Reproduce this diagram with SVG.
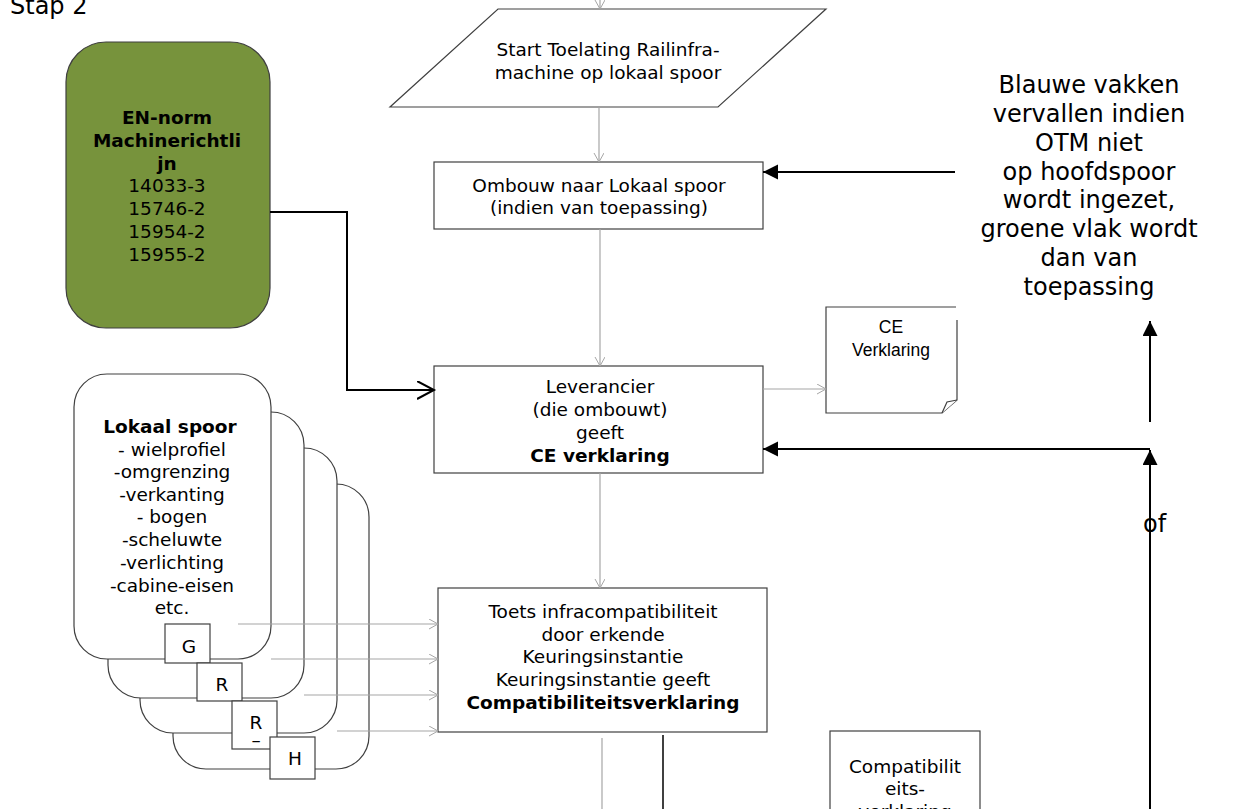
<svg xmlns="http://www.w3.org/2000/svg" width="1257" height="809" viewBox="0 0 1257 809">
<defs>
<style>
.t{font-family:"DejaVu Sans",Verdana,sans-serif;font-size:18.5px;fill:#000;text-anchor:middle}
.b{font-weight:bold}
.big{font-family:"DejaVu Sans",Verdana,sans-serif;font-size:24px;fill:#000}
.a{font-family:"Liberation Sans",Arial,sans-serif;font-size:17.5px;fill:#000;text-anchor:middle}
.box{fill:#fff;stroke:#404040;stroke-width:1.2}
.card{fill:#fff;stroke:#404040;stroke-width:1.2}
.g{fill:none;stroke:#a6a6a6;stroke-width:1.2}
.k{fill:none;stroke:#000;stroke-width:2}
.d{fill:none;stroke:#404040;stroke-width:2}
</style>
<marker id="go" markerUnits="userSpaceOnUse" markerWidth="12" markerHeight="12" refX="9" refY="5" orient="auto">
<path d="M0,0 L9,5 L0,10" fill="none" stroke="#a6a6a6" stroke-width="1"/>
</marker>
<marker id="ko" markerUnits="userSpaceOnUse" markerWidth="20" markerHeight="20" refX="17" refY="9" orient="auto">
<path d="M0,0 L17,9 L0,18" fill="none" stroke="#000" stroke-width="2"/>
</marker>
<marker id="kf" markerUnits="userSpaceOnUse" markerWidth="18" markerHeight="18" refX="15" refY="7.5" orient="auto">
<path d="M0,0 L15,7.5 L0,15 Z" fill="#000"/>
</marker>
</defs>
<rect width="1257" height="809" fill="#fff"/>

<text id="stap" class="big" x="10" y="14">Stap 2</text>

<g id="cards">
<rect class="card" x="173" y="484" width="196" height="285" rx="33"/>
<rect class="card" x="140" y="448" width="197" height="285" rx="33"/>
<rect class="card" x="108" y="412" width="196" height="286" rx="33"/>
<rect class="card" x="74" y="374" width="197" height="285" rx="33"/>
<text class="t b" x="170" y="433">Lokaal spoor</text>
<text class="t" x="172" y="456">- wielprofiel</text>
<text class="t" x="172" y="478">-omgrenzing</text>
<text class="t" x="172" y="501">-verkanting</text>
<text class="t" x="172" y="523">- bogen</text>
<text class="t" x="172" y="546">-scheluwte</text>
<text class="t" x="172" y="569">-verlichting</text>
<text class="t" x="172" y="592">-cabine-eisen</text>
<text class="t" x="172" y="614">etc.</text>
</g>

<g id="sq-g"><rect class="box" x="165" y="624" width="45" height="39"/><text class="t" x="189" y="653">G</text></g>
<g id="sq-r1"><rect class="box" x="197" y="663" width="45" height="38"/><text class="t" x="222" y="691">R</text></g>
<g id="sq-r2"><rect class="box" x="232" y="701" width="45" height="48"/><text class="t" x="256" y="729">R</text><text class="t" x="256" y="746">–</text></g>
<g id="sq-h"><rect class="box" x="270" y="737" width="45" height="42"/><text class="t" x="295" y="765">H</text></g>

<g id="en-norm">
<rect x="66" y="42" width="204" height="286" rx="40" fill="#77933c" stroke="#3f3f3f" stroke-width="1.2"/>
<text class="t b" x="167" y="124">EN-norm</text>
<text class="t b" x="167" y="147">Machinerichtli</text>
<text class="t b" x="167" y="170">jn</text>
<text class="t" x="167" y="192">14033-3</text>
<text class="t" x="167" y="215">15746-2</text>
<text class="t" x="167" y="238">15954-2</text>
<text class="t" x="167" y="261">15955-2</text>
</g>

<g id="start">
<polygon class="box" points="498,9 826,9 718,107 390,107"/>
<text class="t" x="608" y="56">Start Toelating Railinfra-</text>
<text class="t" x="608" y="79">machine op lokaal spoor</text>
</g>

<g id="ombouw">
<rect class="box" x="434" y="162" width="329" height="67"/>
<text class="t" x="599" y="192">Ombouw naar Lokaal spoor</text>
<text class="t" x="599" y="214">(indien van toepassing)</text>
</g>

<g id="leverancier">
<rect class="box" x="434" y="366" width="329" height="107"/>
<text class="t" x="600" y="393">Leverancier</text>
<text class="t" x="600" y="416">(die ombouwt)</text>
<text class="t" x="600" y="439">geeft</text>
<text class="t b" x="600" y="462">CE verklaring</text>
</g>

<g id="ce-doc">
<path class="box" d="M826,307 L957,307 L957,400 L942,413 L826,413 Z"/>
<path d="M942,413 L947,402 L957,400" fill="#fff" stroke="#404040" stroke-width="1.2"/>
<text class="a" x="891" y="333">CE</text>
<text class="a" x="891" y="356">Verklaring</text>
</g>

<g id="toets">
<rect class="box" x="438" y="588" width="329" height="144"/>
<text class="t" x="603" y="618">Toets infracompatibiliteit</text>
<text class="t" x="603" y="641">door erkende</text>
<text class="t" x="603" y="663">Keuringsinstantie</text>
<text class="t" x="603" y="686">Keuringsinstantie geeft</text>
<text class="t b" x="603" y="709">Compatibiliteitsverklaring</text>
</g>

<g id="compat-doc">
<rect class="box" x="830" y="731" width="150" height="100"/>
<text class="t" x="905" y="773">Compatibilit</text>
<text class="t" x="905" y="795">eits-</text>
<text class="t" x="905" y="818">verklaring</text>
</g>

<g id="connectors">
<path class="g" d="M600,0 L600,9" marker-end="url(#go)"/>
<path class="g" d="M599,107 L599,162" marker-end="url(#go)"/>
<path class="g" d="M600,229 L600,366" marker-end="url(#go)"/>
<path class="g" d="M600,473 L600,588" marker-end="url(#go)"/>
<path class="g" d="M602,738 L602,809"/>
<path class="d" d="M663,735 L663,809"/>
<path class="g" d="M763,389 L826,389" marker-end="url(#go)"/>
<path class="k" d="M270,212 L347,212 L347,390 L434,390" marker-end="url(#ko)"/>
<path class="k" d="M955,172 L763,172" marker-end="url(#kf)"/>
<path class="k" d="M1150,449 L763,449" marker-end="url(#kf)"/>
<path class="k" d="M1150,809 L1150,450" marker-end="url(#kf)"/>
<path class="k" d="M1150,422 L1150,321" marker-end="url(#kf)"/>
<path class="g" d="M238,624 L438,624" marker-end="url(#go)"/>
<path class="g" d="M271,659 L438,659" marker-end="url(#go)"/>
<path class="g" d="M304,695 L438,695" marker-end="url(#go)"/>
<path class="g" d="M337,731 L438,731" marker-end="url(#go)"/>
</g>

<g id="note">
<rect x="956" y="40" width="290" height="280" fill="#fff"/>
<text class="big" text-anchor="middle" x="1089" y="93">Blauwe vakken</text>
<text class="big" text-anchor="middle" x="1089" y="122">vervallen indien</text>
<text class="big" text-anchor="middle" x="1089" y="151">OTM niet</text>
<text class="big" text-anchor="middle" x="1089" y="180">op hoofdspoor</text>
<text class="big" text-anchor="middle" x="1089" y="208">wordt ingezet,</text>
<text class="big" text-anchor="middle" x="1089" y="237">groene vlak wordt</text>
<text class="big" text-anchor="middle" x="1089" y="266">dan van</text>
<text class="big" text-anchor="middle" x="1089" y="295">toepassing</text>
</g>

<text id="of" class="big" x="1143" y="532">of</text>
</svg>
